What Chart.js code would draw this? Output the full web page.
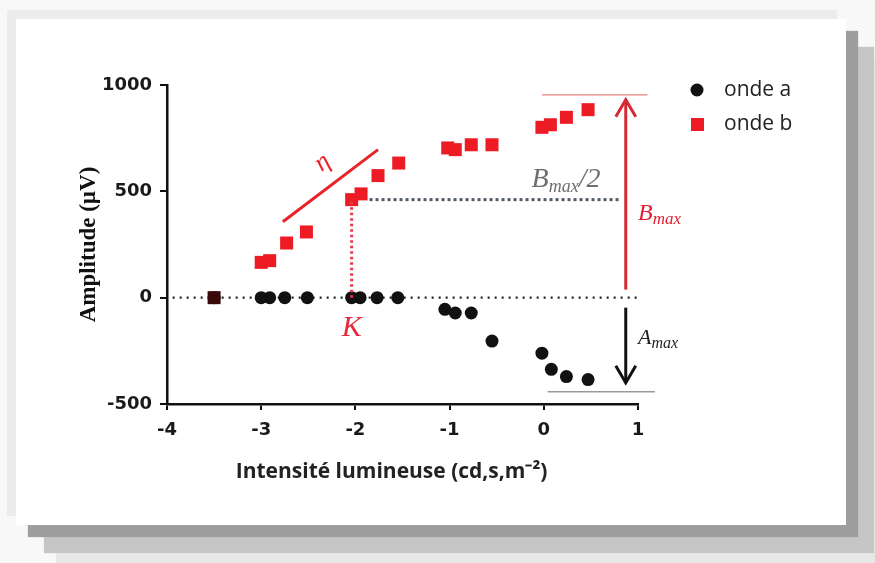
<!DOCTYPE html>
<html>
<head>
<meta charset="utf-8">
<script src="https://cdn.jsdelivr.net/npm/chart.js@4.4.0/dist/chart.umd.min.js"></script>
<style>
html, body { margin: 0; padding: 0; background: #f8f8f8; }
#wrap { position: relative; width: 875px; height: 563px; overflow: hidden; background: #f8f8f8; }
#card { position: absolute; left: 16px; top: 19px; width: 830px; height: 506px; background: #fff;
  box-shadow: 12px 12px 1px #9e9e9e, 28px 28px 1px #c6c6c6, 40px 40px 1px #e8e8e8, -9px -9px 0 #ececec; }
#chart { position: absolute; left: 0; top: 0; }
</style>
</head>
<body>
<div id="wrap">
  <div id="card"></div>
  <canvas id="chart" width="875" height="563"></canvas>
</div>
<script>
// values
var xTicks = [-4, -3, -2, -1, 0, 1];
var yTicks = [-500, 0, 500, 1000];

var xA = [-3.5, -3.0, -2.91, -2.75, -2.51, -2.04, -1.95, -1.77, -1.55, -1.05, -0.94, -0.77, -0.55, -0.02, 0.08, 0.24, 0.47];
var yA = [0, 0, 0, 0, 0, 0, 0, 0, 0, -55, -72, -72, -204, -261, -337, -371, -385];

var xB = [-3.5, -3.0, -2.91, -2.73, -2.52, -2.04, -1.94, -1.76, -1.54, -1.02, -0.94, -0.77, -0.55, -0.02, 0.07, 0.24, 0.47];
var yB = [0, 166, 174, 257, 309, 461, 488, 574, 633, 704, 696, 719, 719, 801, 813, 848, 884];

// annotation values (data units)
var zeroLineX = [-3.94, 1.0];
var slopeX = [-2.77, -1.76], slopeY = [357, 696];
var halfX = [-1.85, 0.81], halfY = 461;
var kX = -2.04;
var topLineX = [-0.02, 1.1], topLineY = 954;
var botLineX = [0.04, 1.18], botLineY = -442;
var arrowX = 0.87;
var bArrowY = [38, 931];
var aArrowY = [-47, -400];

function pts(xs, ys) {
  return xs.map(function (x, i) { return { x: x, y: Array.isArray(ys) ? ys[i] : ys }; });
}

var bColors = xB.map(function (x, i) { return i === 0 ? '#3a0a0a' : '#ed1c24'; });

var lineDs = function (data, color, width, dash, order) {
  return { data: data, showLine: true, borderColor: color, borderWidth: width, borderDash: dash,
    pointRadius: 0, clip: false, order: order, fill: false };
};

var datasets = [
  { label: 'onde a', data: pts(xA, yA), pointStyle: 'circle', pointRadius: 6.5,
    backgroundColor: '#111', borderWidth: 0, order: 1 },
  { label: 'onde b', data: pts(xB, yB), pointStyle: 'rect', pointRadius: 9.2,
    backgroundColor: bColors, borderWidth: 0, order: 0 },
  lineDs(pts(zeroLineX, 0), '#222', 2.2, [2, 5], 5),
  lineDs(pts(slopeX, slopeY), '#e8232a', 3, [], 4),
  lineDs(pts(halfX, halfY), '#4f5a66', 3, [3, 3], 4),
  lineDs([{ x: kX, y: 0 }, { x: kX, y: halfY }], '#e8384f', 3, [2.5, 3], -1),
  lineDs(pts(topLineX, topLineY), '#e88080', 1.2, [], 4),
  lineDs(pts(botLineX, botLineY), '#999', 1.5, [], 4)
];

function drawArrow(ctx, x, y0, y1, color) {
  var dir = y1 < y0 ? 1 : -1;
  ctx.save();
  ctx.strokeStyle = color;
  ctx.lineWidth = 3;
  ctx.beginPath(); ctx.moveTo(x, y0); ctx.lineTo(x, y1); ctx.stroke();
  ctx.beginPath();
  ctx.moveTo(x - 10, y1 + dir * 17); ctx.lineTo(x, y1); ctx.lineTo(x + 10, y1 + dir * 17);
  ctx.stroke();
  ctx.restore();
}

function subText(ctx, x, y, big, sub, rest, size, subSize, color) {
  ctx.save();
  ctx.fillStyle = color;
  ctx.textBaseline = 'alphabetic';
  ctx.textAlign = 'left';
  ctx.font = 'italic ' + size + 'px "Liberation Serif"';
  ctx.fillText(big, x, y);
  var w = ctx.measureText(big).width;
  ctx.font = 'italic ' + subSize + 'px "Liberation Serif"';
  ctx.fillText(sub, x + w, y + size * 0.18);
  var w2 = ctx.measureText(sub).width;
  if (rest) {
    ctx.font = 'italic ' + size + 'px "Liberation Serif"';
    ctx.fillText(rest, x + w + w2, y);
  }
  ctx.restore();
}

var notes = {
  id: 'notes',
  afterDatasetsDraw: function (chart) {
    var ctx = chart.ctx, sx = chart.scales.x, sy = chart.scales.y;
    var ax = sx.getPixelForValue(arrowX);
    drawArrow(ctx, ax, sy.getPixelForValue(bArrowY[0]), sy.getPixelForValue(bArrowY[1]), '#d42a34');
    drawArrow(ctx, ax, sy.getPixelForValue(aArrowY[0]), sy.getPixelForValue(aArrowY[1]), '#111');

    // K
    ctx.save();
    ctx.fillStyle = '#e8283c';
    ctx.font = 'italic 30px "Liberation Serif"';
    ctx.textAlign = 'center';
    ctx.textBaseline = 'middle';
    ctx.fillText('K', sx.getPixelForValue(kX), sy.getPixelForValue(-141));
    // eta along the slope line
    ctx.translate(sx.getPixelForValue(-2.35), sy.getPixelForValue(635));
    ctx.rotate(-37 * Math.PI / 180);
    ctx.font = 'italic 26px "Liberation Serif"';
    ctx.fillStyle = '#e8232a';
    ctx.fillText('η', 0, 0);
    ctx.restore();

    subText(ctx, sx.getPixelForValue(-0.13), sy.getPixelForValue(564) + 9, 'B', 'max', '/2', 28, 18, '#6e6e6e');
    subText(ctx, sx.getPixelForValue(1.0), sy.getPixelForValue(404) + 8, 'B', 'max', '', 24, 17, '#e02030');
    subText(ctx, sx.getPixelForValue(1.0), sy.getPixelForValue(-183) + 7, 'A', 'max', '', 22, 16, '#222');
  },
  afterDraw: function (chart) {
    var ctx = chart.ctx;
    ctx.save();
    ctx.font = '21px "Open Sans"';
    ctx.fillStyle = '#222';
    ctx.textBaseline = 'middle';
    ctx.textAlign = 'left';
    // legend from the two data series
    [0, 1].forEach(function (i) {
      var ds = chart.data.datasets[i];
      var y = 90 + i * 34;
      if (ds.pointStyle === 'circle') {
        ctx.fillStyle = '#111';
        ctx.beginPath(); ctx.arc(697, y, 6.5, 0, Math.PI * 2); ctx.fill();
      } else {
        ctx.fillStyle = '#ed1c24';
        ctx.fillRect(691, y - 6, 13, 13);
      }
      ctx.fillStyle = '#222';
      ctx.fillText(ds.label, 724, y);
    });
    ctx.restore();
  }
};

var tickFont = { family: 'DejaVu Sans', weight: 'bold', size: 18 };
var plainTick = function (v) { return String(v); };

new Chart(document.getElementById('chart'), {
  type: 'scatter',
  data: { datasets: datasets },
  options: {
    responsive: false,
    animation: false,
    devicePixelRatio: 1,
    layout: { padding: { top: 85, right: 237, left: 0, bottom: 0 } },
    plugins: { legend: { display: false }, tooltip: { enabled: false } },
    scales: {
      x: {
        type: 'linear', min: -4, max: 1,
        afterFit: function (s) { s.height = 159; },
        afterBuildTicks: function (s) { s.ticks = xTicks.map(function (v) { return { value: v }; }); },
        ticks: { font: tickFont, color: '#1a1a1a', padding: 10, callback: plainTick },
        grid: { display: true, drawOnChartArea: false, drawTicks: true, tickLength: 6, color: '#111', lineWidth: 2 },
        border: { display: true, color: '#111', width: 2.5 },
        title: { display: true, text: 'Intensité lumineuse (cd,s,m⁻²)\u00a0\u00a0\u00a0\u00a0', color: '#222',
          font: { family: 'Open Sans', weight: 'bold', size: 21 }, padding: { top: 0, bottom: 78 } }
      },
      y: {
        type: 'linear', min: -500, max: 1000,
        afterFit: function (s) { s.width = 167; },
        afterBuildTicks: function (s) { s.ticks = yTicks.map(function (v) { return { value: v }; }); },
        ticks: { font: tickFont, color: '#1a1a1a', padding: 8, callback: plainTick },
        grid: { display: true, drawOnChartArea: false, drawTicks: true, tickLength: 7, color: '#111', lineWidth: 2 },
        border: { display: true, color: '#111', width: 2.5 },
        title: { display: true, text: 'Amplitude (µV)', color: '#111',
          font: { family: 'Liberation Serif', weight: 'bold', size: 23 }, padding: { top: 75, bottom: 0 } }
      }
    }
  },
  plugins: [notes]
});
</script>
</body>
</html>
